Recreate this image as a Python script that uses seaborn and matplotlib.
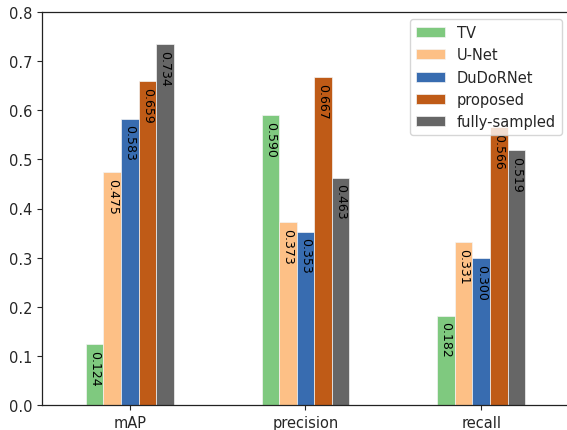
import matplotlib
matplotlib.use("Agg")
import matplotlib.pyplot as plt
import seaborn as sns
import pandas as pd

metrics = ["mAP", "precision", "recall"]
methods = ["TV", "U-Net", "DuDoRNet", "proposed", "fully-sampled"]
tv = [0.124, 0.590, 0.182]
unet = [0.475, 0.373, 0.331]
dudornet = [0.583, 0.353, 0.300]
proposed = [0.659, 0.667, 0.566]
fully_sampled = [0.734, 0.463, 0.519]
colors = ["#7fc97f", "#fdc086", "#386cb0", "#bf5b17", "#666666"]

series = [tv, unet, dudornet, proposed, fully_sampled]
rows = []
for name, vals in zip(methods, series):
    for m, v in zip(metrics, vals):
        rows.append({"metric": m, "method": name, "value": v})
df = pd.DataFrame(rows)

sns.set_style("ticks")
plt.rcParams["font.family"] = ["DejaVu Sans"]

fig = plt.figure(figsize=(5.67, 4.31), dpi=100)
ax = fig.add_axes([42 / 567, 1 - 406 / 431, (569 - 42) / 567, (406 - 13) / 431])

sns.barplot(data=df, x="metric", y="value", hue="method", order=metrics,
            hue_order=methods, palette=colors, width=0.5, ax=ax,
            edgecolor="#f4f4f4", linewidth=0.5, saturation=1)

# value labels written downward inside the top of each bar
for container in ax.containers:
    for bar in container:
        h = bar.get_height()
        ax.text(bar.get_x() + bar.get_width() / 2, h - 0.012, f"{h:.3f}",
                rotation=270, ha="center", va="top", fontsize=9, color="black")

ax.set_ylim(0, 0.8)
ax.set_xlim(-0.5, 2.5)
ax.set_xlabel("")
ax.set_ylabel("")
ax.tick_params(labelsize=10.5)
for s in ax.spines.values():
    s.set_linewidth(0.9)
    s.set_color("#222222")

ax.legend(loc="upper right", fontsize=10.5, title=None, frameon=True)

fig.savefig("out.png", dpi=100)
